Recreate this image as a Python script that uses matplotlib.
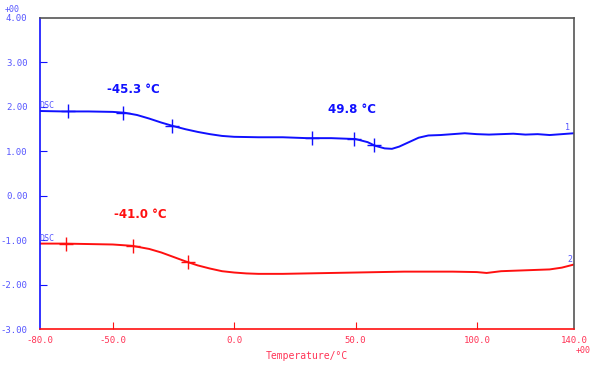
import numpy as np
import matplotlib
matplotlib.use("Agg")
import matplotlib.pyplot as plt

# DSC curve 1 (blue)
blue_x = [-80, -70, -60, -50, -45, -40, -35, -30, -25, -20, -15, -10, -5, 0, 10, 20, 30, 40, 50,
          55, 58, 62, 65, 68, 72, 76, 80, 85, 90, 95, 100, 105, 110, 115, 120, 125, 130, 135, 140]
blue_y = [1.90, 1.89, 1.89, 1.88, 1.86, 1.81, 1.73, 1.64, 1.56, 1.49, 1.43, 1.38, 1.34, 1.32, 1.31,
          1.31, 1.29, 1.29, 1.27, 1.20, 1.12, 1.06, 1.05, 1.10, 1.20, 1.30, 1.35, 1.36, 1.38, 1.40,
          1.38, 1.37, 1.38, 1.39, 1.37, 1.38, 1.36, 1.38, 1.40]
blue_marks = [-68.5, -45.8, -25.6, 32.0, 49.4, 57.6]

# DSC curve 2 (red)
red_x = [-80, -70, -60, -50, -42, -35, -30, -25, -20, -15, -10, -5, 0, 5, 10, 20, 30, 40, 50,
         60, 70, 80, 90, 100, 104, 110, 120, 130, 135, 140]
red_y = [-1.08, -1.08, -1.09, -1.10, -1.13, -1.20, -1.28, -1.38, -1.48, -1.57, -1.64, -1.70,
         -1.73, -1.75, -1.76, -1.76, -1.75, -1.74, -1.73, -1.72, -1.71, -1.71, -1.71, -1.72,
         -1.74, -1.70, -1.68, -1.66, -1.62, -1.55]
red_marks = [-69.3, -41.7, -19.0]

x_ticks = [-80, -50, 0, 50, 100, 140]
x_labels = ["-80.0", "-50.0", "0.0", "50.0", "100.0", "140.0"]
y_ticks = [4, 3, 2, 1, 0, -1, -2, -3]
y_labels = ["4.00", "3.00", "2.00", "1.00", "0.00", "-1.00", "-2.00", "-3.00"]

BLUE = "#1010ff"
RED = "#ff1010"
YLAB = "#5555ff"
XLAB = "#ff3355"

fig = plt.figure(figsize=(5.94, 3.66), dpi=100)
ax = fig.add_axes([0.0673, 0.101, 0.899, 0.851])

ax.plot(blue_x, blue_y, color=BLUE, lw=1.4)
ax.plot(red_x, red_y, color=RED, lw=1.4)
ax.plot(blue_marks, np.interp(blue_marks, blue_x, blue_y), "+", color=BLUE, ms=10, mew=1)
ax.plot(red_marks, np.interp(red_marks, red_x, red_y), "+", color=RED, ms=10, mew=1)

ax.set_xlim(-80, 140)
ax.set_ylim(-3, 4)

# tick marks only on inner values, labels on all
ax.set_xticks(x_ticks)
ax.set_xticklabels(x_labels, color=XLAB, family="DejaVu Sans Mono", fontsize=6.5)
ax.set_yticks(y_ticks)
ax.set_yticklabels(y_labels, color=YLAB, family="DejaVu Sans Mono", fontsize=6.5)
ax.tick_params(axis="x", direction="in", length=5, color=RED, pad=5)
ax.tick_params(axis="y", direction="in", length=5, color=BLUE, pad=9)
for t in ax.xaxis.get_major_ticks():
    if t.get_loc() in (-80, 140):
        t.tick1line.set_visible(False)
for t in ax.yaxis.get_major_ticks():
    if t.get_loc() in (4, -3):
        t.tick1line.set_visible(False)

ax.spines["left"].set_color(BLUE)
ax.spines["bottom"].set_color(RED)
ax.spines["top"].set_color("#555555")
ax.spines["right"].set_color("#555555")
for s in ax.spines.values():
    s.set_linewidth(1.2)

ax.set_xlabel("Temperature/\u00b0C", color=XLAB, family="DejaVu Sans Mono", fontsize=7, labelpad=4)

bold = dict(fontsize=8.5, fontweight="bold", ha="center", va="center")
ax.text(-41.7, 2.39, "-45.3 \u00b0C", color=BLUE, **bold)
ax.text(48.5, 1.93, "49.8 \u00b0C", color=BLUE, **bold)
ax.text(-38.8, -0.43, "-41.0 \u00b0C", color=RED, **bold)

small = dict(fontsize=6, family="DejaVu Sans Mono", color=YLAB)
ax.text(-80, 1.93, "DSC", ha="left", va="bottom", **small)
ax.text(-80, -1.06, "DSC", ha="left", va="bottom", **small)
ax.text(138.5, 1.42, "1", ha="right", va="bottom", **small)
ax.text(139.5, -1.53, "2", ha="right", va="bottom", **small)

fig.text(0.008, 0.985, "+00", color=YLAB, family="DejaVu Sans Mono", fontsize=6, va="top")
fig.text(0.995, 0.03, "+00", color=XLAB, family="DejaVu Sans Mono", fontsize=6, ha="right", va="bottom")

fig.savefig("out.png", dpi=100)
